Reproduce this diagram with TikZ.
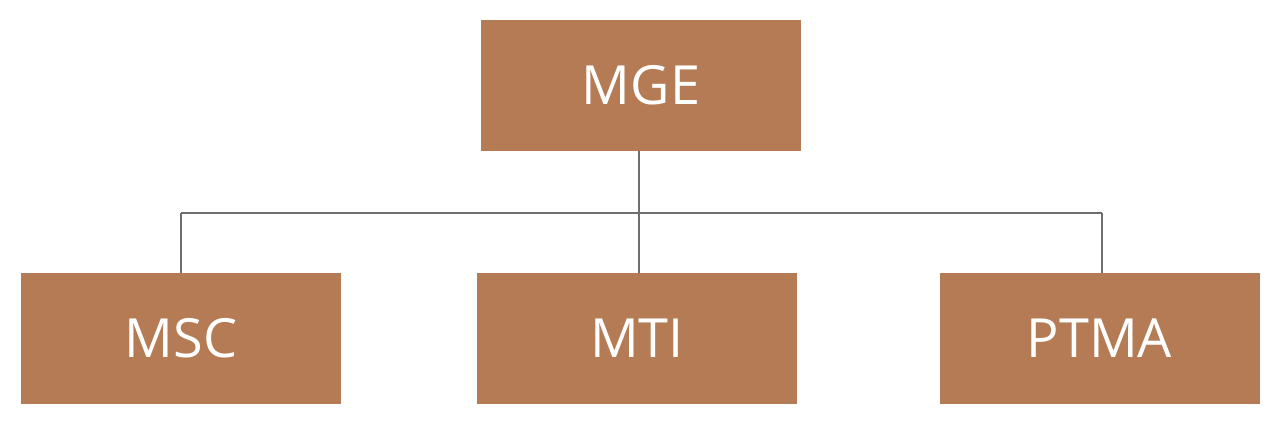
\documentclass[tikz,border=0pt]{standalone}
\usepackage{fontspec}
\setmainfont{Open Sans}
\usetikzlibrary{positioning}
\definecolor{boxbrown}{HTML}{B47B54}
\definecolor{linegray}{HTML}{6E6E6E}

\begin{document}
\begin{tikzpicture}[x=1pt,y=-1pt,
  unit/.style={fill=boxbrown, draw=none, minimum width=320pt, minimum height=131pt,
    inner sep=0pt, text=white, font=\fontsize{54}{60}\selectfont},
  link/.style={draw=linegray, line width=2pt}]
\useasboundingbox (0,0) rectangle (1280,428);
% the head
\node[unit] (mge) at (641,85.5) {MGE};
% the three units below
\node[unit] (msc) at (181,338.5) {MSC};
\node[unit] (mti) at (637,338.5) {MTI};
\node[unit] (ptma) at (1099.5,338.5) {PTMA};
%     the bus
\coordinate (busl) at (181,213);
\coordinate (busm) at (639,213);
\coordinate (busr) at (1102,213);
\coordinate (mtitop) at (639,273);
\coordinate (ptmatop) at (1102,273);
\coordinate (mgebot) at (639,151);
\draw[link] (busl) -- (busr);
\draw[link] (mgebot) -- (busm);
\draw[link] (busl) -- (msc.north);
\draw[link] (busm) -- (mtitop);
\draw[link] (busr) -- (ptmatop);
\end{tikzpicture}
\end{document}
